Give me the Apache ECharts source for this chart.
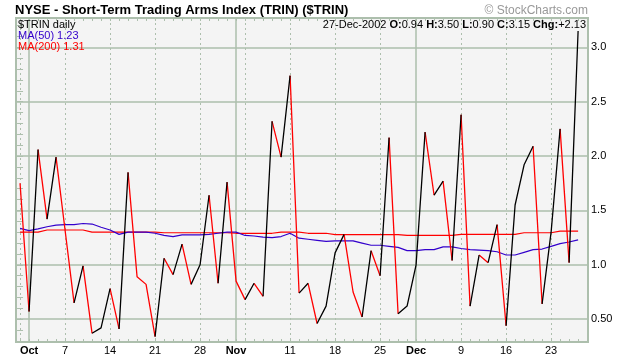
<!DOCTYPE html>
<html><head><meta charset="utf-8">
<script src="https://cdn.jsdelivr.net/npm/echarts@6/dist/echarts.min.js"></script>
<style>html,body{margin:0;padding:0;background:#fff}#c{width:620px;height:359px}</style>
</head><body><div id="c"></div>
<script>
// ---- data ----
const dates = [
 '2002-09-30',
 '2002-10-01','2002-10-02','2002-10-03','2002-10-04',
 '2002-10-07','2002-10-08','2002-10-09','2002-10-10','2002-10-11',
 '2002-10-14','2002-10-15','2002-10-16','2002-10-17','2002-10-18',
 '2002-10-21','2002-10-22','2002-10-23','2002-10-24','2002-10-25',
 '2002-10-28','2002-10-29','2002-10-30','2002-10-31',
 '2002-11-01',
 '2002-11-04','2002-11-05','2002-11-06','2002-11-07','2002-11-08',
 '2002-11-11','2002-11-12','2002-11-13','2002-11-14','2002-11-15',
 '2002-11-18','2002-11-19','2002-11-20','2002-11-21','2002-11-22',
 '2002-11-25','2002-11-26','2002-11-27','2002-11-29',
 '2002-12-02','2002-12-03','2002-12-04','2002-12-05','2002-12-06',
 '2002-12-09','2002-12-10','2002-12-11','2002-12-12','2002-12-13',
 '2002-12-16','2002-12-17','2002-12-18','2002-12-19','2002-12-20',
 '2002-12-23','2002-12-24','2002-12-26','2002-12-27'
];
const trin = [
 1.75,
 0.57,2.06,1.42,1.99,
 1.32,0.65,0.99,0.37,0.42,
 0.78,0.41,1.85,0.89,0.82,
 0.34,1.06,0.91,1.19,0.82,
 1.00,1.64,0.83,1.76,
 0.85,
 0.68,0.83,0.71,2.32,1.99,
 2.74,0.74,0.83,0.46,0.62,
 1.11,1.28,0.75,0.52,1.13,
 0.90,2.17,0.55,0.62,
 1.00,2.22,1.64,1.77,1.04,
 2.38,0.62,1.09,1.02,1.37,
 0.44,1.55,1.92,2.09,0.64,
 1.30,2.25,1.02,3.15
];
const ma50 = [
 1.335,
 1.315,1.33,1.35,1.365,
 1.37,1.37,1.38,1.375,1.345,
 1.32,1.28,1.30,1.30,1.30,
 1.29,1.27,1.26,1.275,1.275,
 1.275,1.28,1.29,1.30,
 1.30,
 1.27,1.265,1.255,1.25,1.26,
 1.29,1.245,1.235,1.225,1.215,
 1.22,1.22,1.22,1.20,1.18,
 1.18,1.17,1.16,1.13,
 1.13,1.14,1.14,1.165,1.165,
 1.15,1.14,1.135,1.13,1.12,
 1.09,1.09,1.115,1.14,1.145,
 1.17,1.195,1.21,1.23
];
const ma200 = [
 1.30,
 1.30,1.30,1.32,1.32,
 1.32,1.32,1.32,1.30,1.30,
 1.30,1.30,1.30,1.30,1.30,
 1.30,1.295,1.295,1.295,1.295,
 1.295,1.295,1.295,1.295,
 1.29,
 1.29,1.29,1.29,1.29,1.30,
 1.30,1.30,1.29,1.29,1.29,
 1.278,1.278,1.278,1.278,1.278,
 1.278,1.278,1.278,1.27,
 1.27,1.27,1.27,1.27,1.27,
 1.28,1.28,1.28,1.28,1.28,
 1.28,1.28,1.295,1.295,1.295,
 1.295,1.31,1.31,1.31
];
const lastBar = {date: '27-Dec-2002', open: 0.94, high: 3.50, low: 0.90};
const yTickValues = [0.5, 1.0, 1.5, 2.0, 2.5, 3.0];
const yTickLabels = ['0.50', '1.0', '1.5', '2.0', '2.5', '3.0'];
const yMinorTicks = [0.3,0.4,0.5,0.6,0.7,0.8,0.9,1.0,1.1,1.2,1.3,1.4,1.5,1.6,1.7,1.8,1.9,2.0,2.1,2.2,2.3,2.4,2.5,2.6,2.7,2.8,2.9,3.0,3.1,3.2];
const monthNames = ['Jan','Feb','Mar','Apr','May','Jun','Jul','Aug','Sep','Oct','Nov','Dec'];

// ---- derived ----
const FONT = '"Liberation Sans", Arial, sans-serif';
const GRID = '#adbfad';
const parsed = dates.map(s => new Date(s + 'T00:00:00Z'));
const monthStart = [], monday = [];
parsed.forEach((d, i) => {
  if (i > 0 && d.getUTCMonth() !== parsed[i-1].getUTCMonth()) monthStart.push(i);
});
parsed.forEach((d, i) => {
  if (d.getUTCDay() === 1 && monthStart.indexOf(i) < 0) monday.push(i);
});
const mondayLabels = monday.filter(i => !monthStart.some(m => Math.abs(m - i) <= 2));
const allIdx = dates.map((_, i) => i);

function segs(isUp) {
  const out = []; let last = -2;
  for (let i = 0; i < trin.length - 1; i++) {
    const up = trin[i+1] >= trin[i];
    if (up !== isUp) continue;
    if (last !== i) { if (out.length) out.push([i, '-']); out.push([i, trin[i]]); }
    out.push([i+1, trin[i+1]]); last = i + 1;
  }
  return out;
}
const n = trin.length;
const chg = trin[n-1] - trin[n-2];

const xMin = -0.45, xMax = n + 0.1;
const yMin = 0.29, yMax = 3.27;

const xBase = {type: 'value', min: xMin, max: xMax, axisLine: {show: false}, position: 'bottom'};
const chart = echarts.init(document.getElementById('c'), null, {renderer: 'canvas'});
chart.setOption({
  animation: false,
  backgroundColor: '#fff',
  grid: {left: 16, right: 32, top: 18, bottom: 17, show: true, backgroundColor: '#f4f4f4', borderColor: GRID, borderWidth: 2},
  title: [
    {text: 'NYSE - Short-Term Trading Arms Index (TRIN) ($TRIN)', left: 15, top: 3, padding: 0,
     textStyle: {fontFamily: FONT, fontSize: 13, fontWeight: 'bold', color: '#000', lineHeight: 14}},
    {text: '© StockCharts.com', right: 32, top: 4, padding: 0,
     textStyle: {fontFamily: FONT, fontSize: 12, fontWeight: 'normal', color: '#999', lineHeight: 14}},
    {text: '{n|' + lastBar.date + ' }{b|O:}{n|' + lastBar.open.toFixed(2) + ' }{b|H:}{n|' + lastBar.high.toFixed(2) +
       ' }{b|L:}{n|' + lastBar.low.toFixed(2) + ' }{b|C:}{n|' + trin[n-1].toFixed(2) + ' }{b|Chg:}{n|' + (chg >= 0 ? '+' : '') + chg.toFixed(2) + '}',
     right: 34, top: 19, padding: 0,
     textStyle: {fontFamily: FONT, fontSize: 11, color: '#000', lineHeight: 12,
       rich: {n: {fontFamily: FONT, fontSize: 11, color: '#000', fontWeight: 'normal'}, b: {fontFamily: FONT, fontSize: 11, color: '#000', fontWeight: 'bold'}}}},
    {text: '$TRIN daily', left: 18, top: 19, padding: 0, textStyle: {fontFamily: FONT, fontSize: 11, fontWeight: 'normal', color: '#000', lineHeight: 12}},
    {text: 'MA(50) ' + ma50[n-1].toFixed(2), left: 18, top: 30, padding: 0, textStyle: {fontFamily: FONT, fontSize: 11, fontWeight: 'normal', color: '#3300cc', lineHeight: 12}},
    {text: 'MA(200) ' + ma200[n-1].toFixed(2), left: 18, top: 41, padding: 0, textStyle: {fontFamily: FONT, fontSize: 11, fontWeight: 'normal', color: '#ff0000', lineHeight: 12}}
  ],
  xAxis: [
    Object.assign({}, xBase, {
      axisTick: {show: false, customValues: monday},
      axisLabel: {customValues: mondayLabels, margin: 3, fontFamily: FONT, fontSize: 11, color: '#000',
        formatter: v => String(parsed[Math.round(v)].getUTCDate())},
      splitLine: {show: true, lineStyle: {color: GRID, type: [2, 3], width: 1}}
    }),
    Object.assign({}, xBase, {
      axisTick: {show: false, customValues: monthStart},
      axisLabel: {customValues: monthStart, margin: 3, fontFamily: FONT, fontSize: 11, fontWeight: 'bold', color: '#000',
        formatter: v => monthNames[parsed[Math.round(v)].getUTCMonth()]},
      splitLine: {show: true, lineStyle: {color: GRID, width: 1.5}}
    }),
    Object.assign({}, xBase, {
      axisTick: {show: true, inside: true, length: 3, customValues: allIdx, lineStyle: {color: GRID}},
      axisLabel: {show: false}, splitLine: {show: false}
    }),
    Object.assign({}, xBase, {position: 'top',
      axisTick: {show: true, inside: true, length: 3, customValues: allIdx, lineStyle: {color: GRID}},
      axisLabel: {show: false}, splitLine: {show: false}
    })
  ],
  yAxis: [
    {type: 'value', position: 'right', min: yMin, max: yMax, axisLine: {show: false},
     axisTick: {show: false, customValues: yTickValues},
     axisLabel: {customValues: yTickValues, margin: 3, fontFamily: FONT, fontSize: 11, color: '#000',
       formatter: v => yTickLabels[yTickValues.findIndex(t => Math.abs(t - v) < 1e-6)]},
     splitLine: {show: true, lineStyle: {color: GRID, width: 1.5}}},
    {type: 'value', position: 'right', min: yMin, max: yMax, axisLine: {show: false},
     axisTick: {show: true, inside: true, length: 3, customValues: yMinorTicks, lineStyle: {color: GRID}},
     axisLabel: {show: false}, splitLine: {show: false}},
    {type: 'value', position: 'left', min: yMin, max: yMax, axisLine: {show: false},
     axisTick: {show: true, inside: true, length: 3, customValues: yMinorTicks, lineStyle: {color: GRID}},
     axisLabel: {show: false}, splitLine: {show: false}}
  ],
  series: [
    {type: 'line', name: 'MA(200)', data: ma200.map((v, i) => [i, v]), showSymbol: false, symbol: 'none',
     lineStyle: {color: '#ff0000', width: 1.2}, z: 2},
    {type: 'line', name: 'MA(50)', data: ma50.map((v, i) => [i, v]), showSymbol: false, symbol: 'none',
     lineStyle: {color: '#3300cc', width: 1.2}, z: 2},
    {type: 'line', name: 'down', data: segs(false), showSymbol: false, symbol: 'none', connectNulls: false,
     lineStyle: {color: '#ff0000', width: 1.3}, z: 3},
    {type: 'line', name: 'up', data: segs(true), showSymbol: false, symbol: 'none', connectNulls: false,
     lineStyle: {color: '#000000', width: 1.3}, z: 3}
  ]
});
</script></body></html>
